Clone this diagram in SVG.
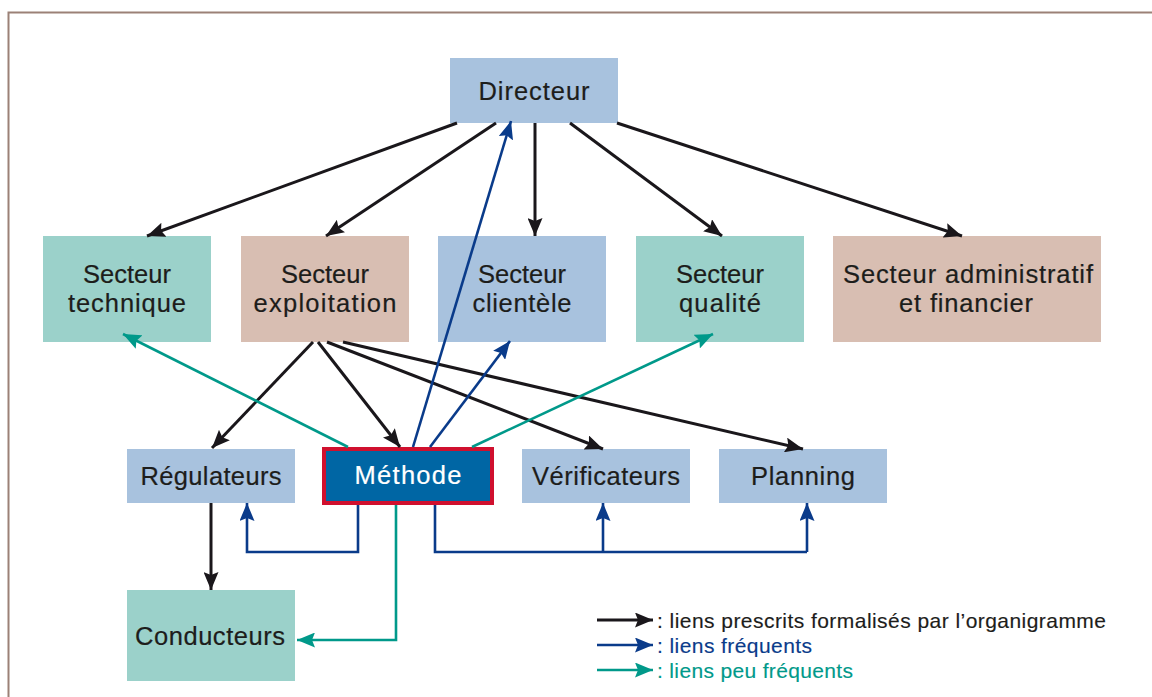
<svg xmlns="http://www.w3.org/2000/svg" width="1152" height="697" viewBox="0 0 1152 697">
<style>
text{font-family:"Liberation Sans",Arial,sans-serif;font-size:25.5px;fill:#1d1d1b;stroke:#1d1d1b;stroke-width:0.2;text-anchor:middle}
.teal{fill:#9bd1ca}.beige{fill:#d8beb2}.blue{fill:#a8c2de}
.k{stroke:#1a171b;stroke-width:3;fill:none}
.b{stroke:#0a3b8a;stroke-width:2.6;fill:none}
.t{stroke:#00998a;stroke-width:2.6;fill:none}
.k{marker-end:url(#mk)}
.b{marker-end:url(#mb)}
.t{marker-end:url(#mt)}
.nomk{marker-end:none}
.leg{font-size:21px;text-anchor:start;stroke-width:0.15}
.lb{fill:#0a3b8a;stroke:#0a3b8a}
.lt{fill:#00998a;stroke:#00998a}
.w{fill:#ffffff;stroke:#ffffff}
</style>
<defs>
<marker id="mk" markerUnits="userSpaceOnUse" markerWidth="18" markerHeight="15" viewBox="0 0 18 15" refX="18" refY="7.5" orient="auto"><path d="M0,0 L18,7.5 L0,15 L3,7.5 z" fill="#1a171b"/></marker>
<marker id="mb" markerUnits="userSpaceOnUse" markerWidth="18" markerHeight="15" viewBox="0 0 18 15" refX="18" refY="7.5" orient="auto"><path d="M0,0 L18,7.5 L0,15 L3,7.5 z" fill="#0a3b8a"/></marker>
<marker id="mt" markerUnits="userSpaceOnUse" markerWidth="18" markerHeight="15" viewBox="0 0 18 15" refX="18" refY="7.5" orient="auto"><path d="M0,0 L18,7.5 L0,15 L3,7.5 z" fill="#00998a"/></marker>
</defs>
<rect width="1152" height="697" fill="#ffffff"/>
<path d="M8.5,697 V12.5 H1152" fill="none" stroke="#9b8177" stroke-width="2"/>

<g id="n-directeur"><rect class="blue" x="450" y="58" width="168" height="65"/><text x="534" y="100" textLength="111" lengthAdjust="spacing">Directeur</text></g>
<g id="n-technique"><rect class="teal" x="43" y="236" width="168" height="106"/><text><tspan x="127" y="283" textLength="88" lengthAdjust="spacing">Secteur</tspan><tspan x="127" y="312" textLength="118" lengthAdjust="spacing">technique</tspan></text></g>
<g id="n-exploitation"><rect class="beige" x="241" y="236" width="168" height="106"/><text><tspan x="325" y="283" textLength="88" lengthAdjust="spacing">Secteur</tspan><tspan x="325" y="312" textLength="143" lengthAdjust="spacing">exploitation</tspan></text></g>
<g id="n-clientele"><rect class="blue" x="438" y="236" width="168" height="106"/><text><tspan x="522" y="283" textLength="88" lengthAdjust="spacing">Secteur</tspan><tspan x="522" y="312" textLength="99" lengthAdjust="spacing">clientèle</tspan></text></g>
<g id="n-qualite"><rect class="teal" x="636" y="236" width="168" height="106"/><text><tspan x="720" y="283" textLength="88" lengthAdjust="spacing">Secteur</tspan><tspan x="720" y="312" textLength="82" lengthAdjust="spacing">qualité</tspan></text></g>
<g id="n-admin"><rect class="beige" x="833" y="236" width="268" height="106"/><text><tspan x="968" y="283" textLength="250" lengthAdjust="spacing">Secteur administratif</tspan><tspan x="966" y="312" textLength="134" lengthAdjust="spacing">et financier</tspan></text></g>
<g id="n-regulateurs"><rect class="blue" x="127" y="449" width="168" height="54"/><text x="211" y="485" textLength="141" lengthAdjust="spacing">Régulateurs</text></g>
<g id="n-methode"><rect x="324" y="449" width="168" height="54" fill="#0066a4" stroke="#d0102e" stroke-width="4"/><text class="w" x="408" y="484" textLength="107" lengthAdjust="spacing">Méthode</text></g>
<g id="n-verificateurs"><rect class="blue" x="522" y="449" width="168" height="54"/><text x="606" y="485" textLength="148" lengthAdjust="spacing">Vérificateurs</text></g>
<g id="n-planning"><rect class="blue" x="719" y="449" width="168" height="54"/><text x="803" y="485" textLength="104" lengthAdjust="spacing">Planning</text></g>
<g id="n-conducteurs"><rect class="teal" x="127" y="590" width="168" height="91"/><text x="210" y="645" textLength="150" lengthAdjust="spacing">Conducteurs</text></g>

<g id="connectors">
<line class="k" x1="457" y1="123" x2="147" y2="236"/>
<line class="k" x1="496" y1="123" x2="326" y2="236"/>
<line class="k" x1="535" y1="123" x2="535" y2="236"/>
<line class="k" x1="570" y1="123" x2="722" y2="236"/>
<line class="k" x1="617" y1="123" x2="962" y2="236"/>
<line class="k" x1="313" y1="342" x2="212" y2="448"/>
<line class="k" x1="318" y1="342" x2="400" y2="447"/>
<line class="k" x1="327" y1="342" x2="603" y2="449"/>
<line class="k" x1="343" y1="342" x2="803" y2="449"/>
<line class="k" x1="211" y1="503" x2="211" y2="590"/>
<line class="b" x1="413" y1="447" x2="511" y2="121"/>
<line class="b" x1="430" y1="447" x2="510" y2="341"/>
<line class="t" x1="348" y1="447" x2="123" y2="334"/>
<line class="t" x1="472" y1="447" x2="713" y2="334"/>
<path class="b" d="M358,505 V552 H247 V503"/>
<path class="b nomk" d="M435,505 V552 H807"/>
<path class="b" d="M807,552 V503"/>
<path class="b" d="M603,552 V503"/>
<path class="t" d="M396,505 V640 H297"/>
</g>

<g id="legend">
<line class="k" x1="597" y1="620" x2="653" y2="620"/>
<line class="b" x1="597" y1="645" x2="653" y2="645"/>
<line class="t" x1="597" y1="670" x2="653" y2="670"/>
<text class="leg" x="657" y="628" textLength="449" lengthAdjust="spacing">: liens prescrits formalisés par l’organigramme</text>
<text class="leg lb" x="657" y="653" textLength="155" lengthAdjust="spacing">: liens fréquents</text>
<text class="leg lt" x="657" y="678" textLength="196" lengthAdjust="spacing">: liens peu fréquents</text>
</g>
</svg>
